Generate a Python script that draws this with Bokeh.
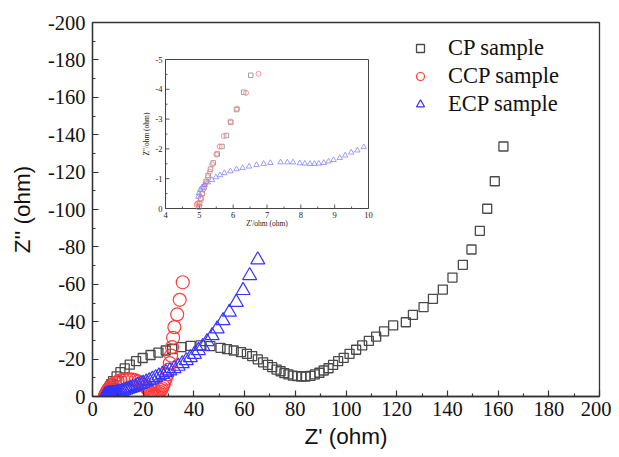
import numpy as np
from bokeh.plotting import figure
from bokeh.models import Range1d, FixedTicker, Legend, LegendItem
from bokeh.core.properties import value
from bokeh.embed import file_html
from bokeh.resources import INLINE

# ---------------- data ----------------
cp_zre = [4.99, 5.01, 5.05, 5.09, 5.14, 5.20, 5.26, 5.33, 5.41, 5.53, 5.67, 5.80, 5.93, 6.10, 6.31, 6.52,
          6.85, 7.35, 8.1, 9.5, 11.0, 12.7, 14.7, 17.2, 19.8, 22.9, 26.0, 28.9, 31.4, 35.0, 38.7, 42.6, 46.5,
          50.5, 53.1, 55.7, 58.6, 60.9, 63.0, 65.2, 67.3, 69.2, 70.9, 72.6, 74.2, 75.7, 77.3, 79.0, 80.7,
          82.3, 84.0, 86.0, 87.7, 89.5, 91.2, 93.1, 94.9, 96.9, 99.1, 101.4, 104.0, 106.4, 109.0, 111.9,
          115.0, 118.6, 123.6, 126.4, 130.6, 134.3, 138.2, 142.0, 146.1, 149.5, 152.8, 155.7, 158.7, 162.1]
cp_zim = [-0.05, -0.16, -0.33, -0.51, -0.72, -0.91, -1.11, -1.32, -1.53, -1.83, -2.08, -2.45, -2.89, -3.32, -3.90, -4.47,
          -5.4, -6.6, -8.2, -10.8, -13.0, -15.0, -17.0, -18.9, -20.6, -22.2, -23.5, -24.6, -25.4, -26.4, -27.1, -27.3, -26.9,
          -26.0, -25.3, -24.6, -23.7, -22.8, -21.6, -19.9, -18.3, -16.9, -15.7, -14.4, -13.5, -12.5, -11.8, -11.2, -10.9,
          -10.7, -10.7, -11.0, -11.8, -12.7, -13.9, -15.1, -16.9, -18.9, -20.7, -22.8, -25.0, -27.3, -29.7, -32.0,
          -34.8, -38.0, -39.7, -43.7, -47.8, -52.2, -57.2, -63.6, -70.4, -78.6, -88.6, -100.4, -115.1, -133.7]

ccp_zre = [4.92, 4.94, 4.98, 5.03, 5.08, 5.13, 5.18, 5.25, 5.31, 5.38, 5.50, 5.60, 5.72, 5.92, 6.12, 6.38, 6.75,
           7.3, 8.0, 8.9, 9.9, 11.0, 12.2, 13.4, 14.6, 15.8, 17.0, 18.1, 19.1, 20.0, 20.8, 21.5, 22.1, 22.6,
           23.1, 23.6, 24.1, 24.6, 25.1, 25.6, 26.1, 26.6, 27.0, 27.4, 27.9, 28.4, 28.9, 29.5, 30.0, 30.5,
           31.0, 31.4, 31.8, 32.3, 33.4, 34.4, 35.6]
ccp_zim = [-0.12, -0.16, -0.19, -0.33, -0.48, -0.66, -0.85, -1.05, -1.24, -1.48, -1.81, -2.08, -2.43, -2.92, -3.35, -3.88, -4.52,
           -5.5, -6.4, -7.3, -8.0, -8.6, -9.0, -9.2, -9.2, -9.0, -8.6, -8.0, -7.2, -6.3, -5.3, -4.3, -3.3, -2.4,
           -1.7, -1.2, -0.9, -0.8, -0.9, -1.2, -1.7, -2.5, -3.4, -4.4, -5.8, -7.6, -9.6, -11.8, -14.4, -17.8,
           -21.9, -26.4, -31.4, -37.1, -43.9, -51.7, -61.1]

ecp_zre = [4.97, 4.99, 5.03, 5.08, 5.16, 5.25, 5.37, 5.49, 5.61, 5.74, 5.92, 6.10, 6.28, 6.47, 6.69, 6.90, 7.10,
           7.40, 7.60, 7.77, 7.97, 8.12, 8.27, 8.40, 8.53, 8.68, 8.82, 8.97, 9.15, 9.31, 9.49, 9.67, 9.86,
           10.4, 11.0, 11.7, 12.4, 13.2, 14.0, 14.9, 15.8, 16.8, 17.8, 18.9, 20.0, 21.2, 22.4, 23.6, 24.9,
           26.2, 27.6, 29.0, 30.5, 32.2, 33.8, 35.4, 37.0, 38.6, 40.2, 41.8, 43.5, 45.2, 47.2, 49.2, 51.5,
           54.0, 56.7, 59.4, 62.0, 65.2]
ecp_zim = [-0.40, -0.51, -0.63, -0.71, -0.79, -0.88, -0.96, -1.05, -1.12, -1.19, -1.25, -1.32, -1.36, -1.41, -1.46, -1.50, -1.53,
           -1.55, -1.55, -1.55, -1.52, -1.51, -1.50, -1.50, -1.51, -1.53, -1.58, -1.63, -1.70, -1.78, -1.88, -1.95, -2.06,
           -2.2, -2.5, -2.8, -3.1, -3.5, -3.9, -4.3, -4.8, -5.3, -5.9, -6.5, -7.1, -7.8, -8.5, -9.3, -10.1,
           -11.0, -11.9, -12.8, -13.7, -14.9, -16.2, -17.6, -19.2, -20.8, -22.6, -24.6, -26.8, -29.4, -32.6, -36.2, -40.6,
           -45.1, -50.4, -56.7, -64.7, -73.1]

series_labels = ["CP sample", "CCP sample", "ECP sample"]

main_xticks = [0, 20, 40, 60, 80, 100, 120, 140, 160, 180, 200]
main_xminor = [10, 30, 50, 70, 90, 110, 130, 150, 170, 190]
main_yticks = [0, -20, -40, -60, -80, -100, -120, -140, -160, -180, -200]
main_yminor = [-10, -30, -50, -70, -90, -110, -130, -150, -170, -190]

inset_xticks = [4, 5, 6, 7, 8, 9, 10]
inset_xminor = [4.5, 5.5, 6.5, 7.5, 8.5, 9.5]
inset_yticks = [0, -1, -2, -3, -4, -5]
inset_yminor = [-0.5, -1.5, -2.5, -3.5, -4.5]
inset_xlabel = "Z'/ohm (ohm)"
inset_ylabel = "Z''/ohm (ohm)"

# ---------------- layout ----------------
FW, FH = 507, 374
SERIF = "Liberation Serif"
SANS = "Liberation Sans"
AX = "#333333"

p = figure(output_backend="svg", toolbar_location=None,
           frame_width=FW, frame_height=FH,
           min_border_left=92, min_border_right=12, min_border_top=22, min_border_bottom=53,
           x_range=Range1d(0, 200), y_range=Range1d(0, -200))
p.xgrid.visible = False
p.ygrid.visible = False
p.outline_line_color = AX
p.outline_line_width = 1.3

p.xaxis.ticker = FixedTicker(ticks=main_xticks, minor_ticks=main_xminor)
p.yaxis.ticker = FixedTicker(ticks=main_yticks, minor_ticks=main_yminor)
p.xaxis.major_label_overrides = {t: str(t) for t in main_xticks}
p.yaxis.major_label_overrides = {t: str(t) for t in main_yticks}
for ax in (p.xaxis[0], p.yaxis[0]):
    ax.axis_line_color = AX
    ax.axis_line_width = 1.3
    ax.major_tick_line_color = AX
    ax.minor_tick_line_color = AX
    ax.major_tick_line_width = 1.2
    ax.minor_tick_line_width = 1.2
    ax.major_tick_in = 6
    ax.major_tick_out = 0
    ax.minor_tick_in = 3
    ax.minor_tick_out = 0
    ax.major_label_text_font = SERIF
    ax.major_label_text_font_size = "20.5px"
    ax.major_label_text_color = "#111111"
    ax.axis_label_text_font = SANS
    ax.axis_label_text_font_size = "22.5px"
    ax.axis_label_text_font_style = "normal"
    ax.axis_label_text_color = "#111111"
p.xaxis.axis_label = "Z' (ohm)"
p.yaxis.axis_label = "Z'' (ohm)"
p.xaxis.major_label_standoff = 5
p.yaxis.major_label_standoff = 7
p.xaxis.axis_label_standoff = 5
p.yaxis.axis_label_standoff = 10

r_cp = p.scatter(cp_zre, cp_zim, marker="square", size=9, fill_color=None,
                 line_color="#4a4a4a", line_width=1.3)
r_ccp = p.scatter(ccp_zre, ccp_zim, marker="circle", size=13, fill_color=None,
                  line_color="#ff3b3b", line_width=1.2)
r_ecp = p.scatter(ecp_zre, ecp_zim, marker="triangle", size=14, fill_color=None,
                  line_color="#3535ff", line_width=1.2)

legend = Legend(items=[LegendItem(label=series_labels[0], renderers=[r_cp]),
                       LegendItem(label=series_labels[1], renderers=[r_ccp]),
                       LegendItem(label=series_labels[2], renderers=[r_ecp])],
                location=(318, 279), border_line_color=None, background_fill_alpha=0,
                label_text_font=SERIF, label_text_font_size="22.5px", label_text_color="#111111",
                glyph_width=20, glyph_height=22, label_height=22, label_standoff=18,
                spacing=2, padding=0, margin=0)
p.add_layout(legend)

# ---------------- inset (drawn on extra ranges) ----------------
IL, IR, IB, IT = 73, 276, 188, 337     # inset frame in frame pixels
x0, x1 = inset_xticks[0], inset_xticks[-1]
y0, y1 = -inset_yticks[0], -inset_yticks[-1]
sx = (IR - IL) / (x1 - x0)
sy = (IT - IB) / (y1 - y0)
p.extra_x_ranges = {"ix": Range1d(x0 - IL / sx, x1 + (FW - IR) / sx)}
p.extra_y_ranges = {"iy": Range1d(-(y0 - IB / sy), -(y1 + (FH - IT) / sy))}

p.quad(left=[x0], right=[x1], bottom=[-y0], top=[-y1], x_range_name="ix", y_range_name="iy",
       fill_color="white", line_color="#444444", line_width=1.0)

def seg(xs0, ys0, xs1, ys1, w):
    p.segment(x0=xs0, y0=ys0, x1=xs1, y1=ys1, x_range_name="ix", y_range_name="iy",
              line_color="#444444", line_width=w)

# bottom ticks
seg(inset_xticks, [-y0] * len(inset_xticks), inset_xticks, [-y0 - 4 / sy] * len(inset_xticks), 0.9)
seg(inset_xminor, [-y0] * len(inset_xminor), inset_xminor, [-y0 - 2 / sy] * len(inset_xminor), 0.9)
# left ticks
seg([x0] * len(inset_yticks), inset_yticks, [x0 + 4 / sx] * len(inset_yticks), inset_yticks, 0.9)
seg([x0] * len(inset_yminor), inset_yminor, [x0 + 2 / sx] * len(inset_yminor), inset_yminor, 0.9)

p.text(x=inset_xticks, y=[-y0] * len(inset_xticks), text=[str(t) for t in inset_xticks],
       x_range_name="ix", y_range_name="iy", y_offset=3, text_align="center", text_baseline="top",
       text_font=value(SERIF), text_font_size="8.5px", text_color="#222222")
p.text(x=[x0] * len(inset_yticks), y=inset_yticks, text=[str(t) for t in inset_yticks],
       x_range_name="ix", y_range_name="iy", x_offset=-3, text_align="right", text_baseline="middle",
       text_font=value(SERIF), text_font_size="8.5px", text_color="#222222")
p.text(x=[(x0 + x1) / 2], y=[-y0], text=[inset_xlabel], x_range_name="ix", y_range_name="iy",
       y_offset=15, text_align="center", text_baseline="middle",
       text_font=value(SERIF), text_font_size="7.5px", text_color="#222222")
p.text(x=[x0], y=[-(y0 + y1) / 2], text=[inset_ylabel], x_range_name="ix", y_range_name="iy",
       x_offset=-19, angle=np.pi / 2, text_align="center", text_baseline="middle",
       text_font=value(SERIF), text_font_size="7.5px", text_color="#222222")

def inset_pts(xs, ys):
    xs = np.asarray(xs); ys = np.asarray(ys)
    m = (xs >= x0) & (xs <= x1) & (-ys >= y0) & (-ys <= y1)
    return xs[m], ys[m]

ax_, ay_ = inset_pts(cp_zre, cp_zim)
p.scatter(ax_, ay_, marker="square", size=4.5, fill_color=None, line_color="#8a8a8a", line_width=0.8,
          x_range_name="ix", y_range_name="iy")
ax_, ay_ = inset_pts(ccp_zre, ccp_zim)
p.scatter(ax_, ay_, marker="circle", size=5, fill_color=None, line_color="#ff7a7a", line_width=0.8,
          x_range_name="ix", y_range_name="iy")
ax_, ay_ = inset_pts(ecp_zre, ecp_zim)
p.scatter(ax_, ay_, marker="triangle", size=5.5, fill_color=None, line_color="#8585ff", line_width=0.8,
          x_range_name="ix", y_range_name="iy")

open("out.html", "w").write(file_html(p, INLINE))
